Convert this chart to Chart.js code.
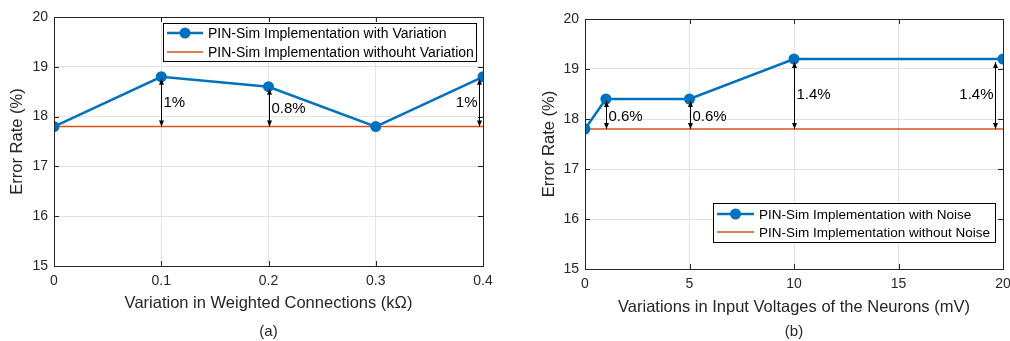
<!DOCTYPE html>
<html>
<head>
<meta charset="utf-8">
<script src="https://cdn.jsdelivr.net/npm/chart.js@4/dist/chart.umd.min.js"></script>
<style>
  body { margin: 0; background: #fff; }
  .wrap { position: absolute; top: 0; width: 505px; height: 341px; }
</style>
</head>
<body>
<div class="wrap" style="left:0"><canvas id="chartA" width="505" height="341"></canvas></div>
<div class="wrap" style="left:505px"><canvas id="chartB" width="505" height="341"></canvas></div>
<script>
// ---- data ----
const yTicks = [15, 16, 17, 18, 19, 20];

const variationX = [0, 0.1, 0.2, 0.3, 0.4];
const withVariation = [17.8, 18.8, 18.6, 17.8, 18.8];
const withoutVariation = [17.8, 17.8, 17.8, 17.8, 17.8];

const noiseX = [0, 1, 5, 10, 20];
const withNoise = [17.8, 18.4, 18.4, 19.2, 19.2];
const withoutNoise = [17.8, 17.8, 17.8, 17.8, 17.8];

// difference arrows (drawn from the 17.8 baseline up to the marker)
const arrowsA_x = [0.1, 0.2, 0.396];
const arrowsA_top = [18.76, 18.56, 18.76];
const arrowsA_label = ['1%', '0.8%', '1%'];
const arrowsA_labelY = [18.27, 18.15, 18.27];
const arrowsA_side = ['right', 'right', 'left'];

const arrowsB_x = [1, 5, 10, 19.6];
const arrowsB_top = [18.36, 18.36, 19.14, 19.14];
const arrowsB_label = ['0.6%', '0.6%', '1.4%', '1.4%'];
const arrowsB_labelY = [18.05, 18.05, 18.48, 18.48];
const arrowsB_side = ['right', 'right', 'right', 'left'];

const baseline = 17.8;
//--------------------------//

const BLUE = '#0072BD';
const ORANGE = '#D95319';
const AXIS = '#262626';
const FONT = "'Liberation Sans', Arial, sans-serif";

function drawArrowHead(ctx, x, y, dir) {
  ctx.beginPath();
  ctx.moveTo(x, y);
  ctx.lineTo(x - 2.5, y - dir * 6);
  ctx.lineTo(x + 2.5, y - dir * 6);
  ctx.closePath();
  ctx.fill();
}

const matlabBits = {
  id: 'matlabBits',
  afterDraw(chart, args, opts) {
    const ctx = chart.ctx;
    const xs = chart.scales.x, ys = chart.scales.y;
    const a = chart.chartArea;
    ctx.save();

    // inward tick marks on all four sides
    ctx.strokeStyle = AXIS;
    ctx.lineWidth = 1;
    ctx.beginPath();
    xs.ticks.forEach(t => {
      const px = Math.round(xs.getPixelForValue(t.value)) + 0.5;
      ctx.moveTo(px, a.bottom); ctx.lineTo(px, a.bottom - 5);
      ctx.moveTo(px, a.top); ctx.lineTo(px, a.top + 5);
    });
    ys.ticks.forEach(t => {
      const py = Math.round(ys.getPixelForValue(t.value)) + 0.5;
      ctx.moveTo(a.left, py); ctx.lineTo(a.left + 5, py);
      ctx.moveTo(a.right, py); ctx.lineTo(a.right - 5, py);
    });
    ctx.stroke();
    ctx.strokeRect(Math.round(a.left) + 0.5, Math.round(a.top) + 0.5,
                   Math.round(a.right - a.left), Math.round(a.bottom - a.top));

    // arrows + labels
    const ar = opts.arrows;
    ctx.fillStyle = '#000';
    ctx.strokeStyle = '#000';
    ctx.font = '15px ' + FONT;
    ctx.textBaseline = 'middle';
    for (let i = 0; i < ar.x.length; i++) {
      const px = Math.round(xs.getPixelForValue(ar.x[i])) + 0.5;
      const y0 = ys.getPixelForValue(baseline);
      const y1 = ys.getPixelForValue(ar.top[i]);
      ctx.beginPath();
      ctx.moveTo(px, y0); ctx.lineTo(px, y1);
      ctx.stroke();
      drawArrowHead(ctx, px, y1, -1);
      drawArrowHead(ctx, px, y0, 1);
      const ly = ys.getPixelForValue(ar.labelY[i]);
      if (ar.side[i] === 'right') {
        ctx.textAlign = 'left';
        ctx.fillText(ar.label[i], px + 2, ly);
      } else {
        ctx.textAlign = 'right';
        ctx.fillText(ar.label[i], px - 2, ly);
      }
    }

    // legend box
    const lg = opts.legend;
    ctx.fillStyle = '#fff';
    ctx.fillRect(lg.x, lg.y, lg.w, lg.h);
    ctx.strokeStyle = '#000';
    ctx.lineWidth = 1;
    ctx.strokeRect(lg.x + 0.5, lg.y + 0.5, lg.w, lg.h);
    ctx.font = lg.fontSize + 'px ' + FONT;
    ctx.textAlign = 'left';
    chart.data.datasets.forEach((ds, i) => {
      const ry = lg.y + lg.row0 + i * lg.rowGap;
      ctx.strokeStyle = ds.borderColor;
      ctx.lineWidth = ds.borderWidth;
      ctx.beginPath();
      ctx.moveTo(lg.x + 4, ry); ctx.lineTo(lg.x + 4 + lg.sample, ry);
      ctx.stroke();
      if (ds.pointRadius > 0) {
        ctx.fillStyle = ds.borderColor;
        ctx.beginPath();
        ctx.arc(lg.x + 4 + lg.sample / 2, ry, ds.pointRadius, 0, Math.PI * 2);
        ctx.fill();
      }
      ctx.fillStyle = '#000';
      ctx.fillText(ds.label, lg.x + lg.sample + 9, ry + 1);
    });

    // sub-caption
    ctx.fillStyle = AXIS;
    ctx.font = '15px ' + FONT;
    ctx.textAlign = 'center';
    ctx.fillText(opts.caption, (a.left + a.right) / 2, 332);
    ctx.restore();
  }
};

function makeConfig(xVals, withVals, withoutVals, names, xOpts, layout, arrows, legend, caption) {
  return {
    type: 'line',
    data: {
      datasets: [
        {
          label: names[0],
          data: xVals.map((x, i) => ({ x: x, y: withVals[i] })),
          borderColor: BLUE,
          backgroundColor: BLUE,
          borderWidth: 2.5,
          pointRadius: 5.5,
          pointBackgroundColor: BLUE,
          pointBorderWidth: 0,
          tension: 0
        },
        {
          label: names[1],
          data: xVals.map((x, i) => ({ x: x, y: withoutVals[i] })),
          borderColor: ORANGE,
          backgroundColor: ORANGE,
          borderWidth: 1.5,
          pointRadius: 0,
          tension: 0
        }
      ]
    },
    options: {
      responsive: false,
      animation: false,
      layout: { padding: layout.padding },
      plugins: {
        legend: { display: false },
        tooltip: { enabled: false },
        matlabBits: { arrows: arrows, legend: legend, caption: caption }
      },
      scales: {
        x: {
          type: 'linear',
          min: xOpts.min,
          max: xOpts.max,
          afterBuildTicks: s => { s.ticks = xOpts.ticks.map(v => ({ value: v })); },
          ticks: {
            color: AXIS,
            padding: 7,
            maxRotation: 0,
            font: { family: FONT, size: 14 },
            callback: v => String(+v.toFixed(2))
          },
          grid: { color: '#e3e3e3', drawTicks: false },
          border: { display: false },
          title: {
            display: true,
            text: xOpts.title,
            color: AXIS,
            font: { family: FONT, size: 16.5 },
            padding: { top: 0, bottom: layout.xTitlePad }
          },
          afterFit: s => { s.height = layout.xHeight; s.paddingLeft = 0; s.paddingRight = 0; }
        },
        y: {
          min: 15,
          max: 20,
          afterBuildTicks: s => { s.ticks = yTicks.map(v => ({ value: v })); },
          ticks: {
            color: AXIS,
            padding: 6,
            font: { family: FONT, size: 14 }
          },
          grid: { color: '#e3e3e3', drawTicks: false },
          border: { display: false },
          title: {
            display: true,
            text: 'Error Rate (%)',
            color: AXIS,
            font: { family: FONT, size: 16.5 },
            padding: { top: 8, bottom: 0 }
          },
          afterFit: s => { s.width = layout.yWidth; s.paddingTop = 0; s.paddingBottom = 0; }
        }
      }
    },
    plugins: [matlabBits]
  };
}

const configA = makeConfig(
  variationX, withVariation, withoutVariation,
  ['PIN-Sim Implementation with Variation', 'PIN-Sim Implementation withouht Variation'],
  { min: 0, max: 0.4, ticks: variationX, title: 'Variation in Weighted Connections (k\u03A9)' },
  { padding: { left: 0, top: 17, right: 22, bottom: 0 }, xHeight: 75, yWidth: 54, xTitlePad: 28 },
  { x: arrowsA_x, top: arrowsA_top, label: arrowsA_label, labelY: arrowsA_labelY, side: arrowsA_side },
  { x: 163, y: 23, w: 313, h: 38, row0: 10, rowGap: 19, sample: 36, fontSize: 14 },
  '(a)'
);

const configB = makeConfig(
  noiseX, withNoise, withoutNoise,
  ['PIN-Sim Implementation with Noise', 'PIN-Sim Implementation without Noise'],
  { min: 0, max: 20, ticks: [0, 5, 10, 15, 20], title: 'Variations in Input Voltages of the Neurons (mV)' },
  { padding: { left: 27, top: 19, right: 7, bottom: 0 }, xHeight: 72, yWidth: 53, xTitlePad: 24 },
  { x: arrowsB_x, top: arrowsB_top, label: arrowsB_label, labelY: arrowsB_labelY, side: arrowsB_side },
  { x: 208, y: 203, w: 282, h: 39, row0: 11, rowGap: 18, sample: 37, fontSize: 13.5 },
  '(b)'
);

var chartA = new Chart(document.getElementById('chartA'), configA);
var chartB = new Chart(document.getElementById('chartB'), configB);
</script>
</body>
</html>
